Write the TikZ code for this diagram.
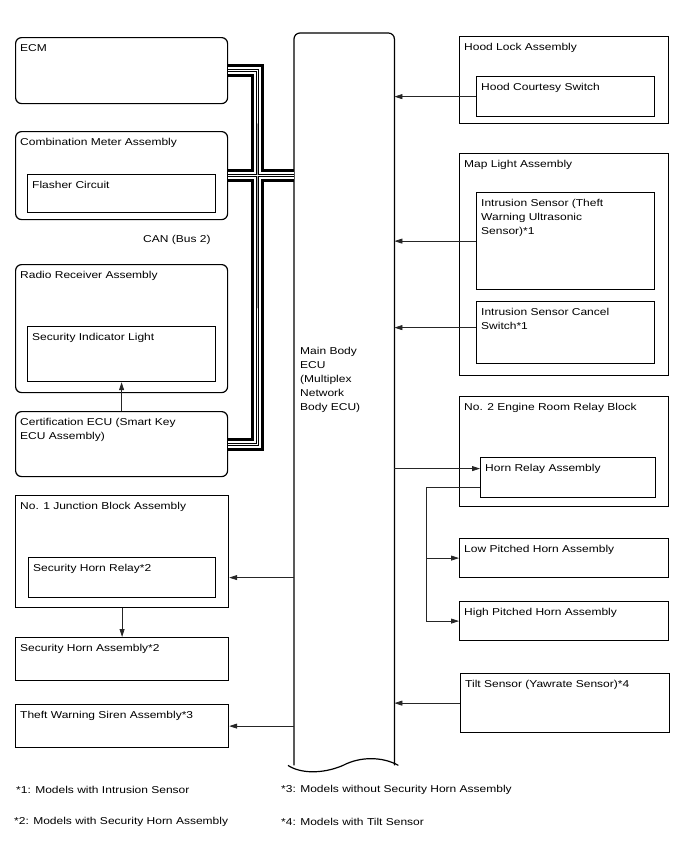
\documentclass[tikz,border=0pt]{standalone}
\usepackage{fontspec}
\setmainfont{Liberation Sans}[FakeStretch=1.2]
\usetikzlibrary{arrows.meta}

\begin{document}
\begin{tikzpicture}[
  x=1pt, y=-1pt,
  font=\fontsize{10}{14}\selectfont,
  rbox/.style={draw, line width=1.2pt, rounded corners=6pt, anchor=north west, inner sep=0pt},
  sbox/.style={draw, line width=1.2pt, anchor=north west, inner sep=0pt},
  boxlabel/.style={anchor=north west, inner sep=0pt, align=left, xshift=5pt, yshift=-7.5pt},
  sig/.style={draw=black!85, line width=0.75pt, -{Triangle[length=8pt,width=5pt]}},
  canout/.style={line width=3pt, double distance=7pt},
  canin/.style={line width=1pt, double distance=1pt}
]
\useasboundingbox (0,0) rectangle (688,852);

% left column
\node[rbox, minimum width=212, minimum height=66] (ecm) at (15,37) {};
\node[boxlabel] (ecm-t) at (ecm.north west) {ECM};
\node[rbox, minimum width=212, minimum height=88] (meter) at (15,131) {};
\node[boxlabel] (meter-t) at (meter.north west) {Combination Meter Assembly};
\node[sbox, minimum width=188, minimum height=38] (flasher) at (27,174) {};
\node[boxlabel] (flasher-t) at (flasher.north west) {Flasher Circuit};
\node[rbox, minimum width=212, minimum height=128] (radio) at (15,264) {};
\node[boxlabel] (radio-t) at (radio.north west) {Radio Receiver Assembly};
\node[sbox, minimum width=188, minimum height=55] (indicator) at (27,326) {};
\node[boxlabel] (indicator-t) at (indicator.north west) {Security Indicator Light};
\node[rbox, minimum width=212, minimum height=65] (cert) at (15,411) {};
\node[boxlabel] (cert-t) at (cert.north west) {Certification ECU (Smart Key\\ECU Assembly)};
\node[sbox, minimum width=213, minimum height=112] (jb) at (15,495) {};
\node[boxlabel] (jb-t) at (jb.north west) {No. 1 Junction Block Assembly};
\node[sbox, minimum width=187, minimum height=40] (secrelay) at (28,557) {};
\node[boxlabel] (secrelay-t) at (secrelay.north west) {Security Horn Relay*2};
\node[sbox, minimum width=213, minimum height=43] (sechorn) at (15,637) {};
\node[boxlabel] (sechorn-t) at (sechorn.north west) {Security Horn Assembly*2};
\node[sbox, minimum width=213, minimum height=43] (siren) at (15,704) {};
\node[boxlabel] (siren-t) at (siren.north west) {Theft Warning Siren Assembly*3};
\node[anchor=west, inner sep=0pt] (canlbl) at (143,240) {CAN (Bus 2)};

% main body ECU
\node[minimum width=100, minimum height=732, anchor=north west, inner sep=0pt] (ecu) at (294,33) {};
\draw[line width=1.2pt, rounded corners=6pt] (ecu.south west) -- (ecu.north west) -- (ecu.north east) -- (ecu.south east);
\draw[line width=1.2pt] ([xshift=-6pt]ecu.south west) .. controls +(12,8) and +(-21,9) .. ++(55,0)
  .. controls +(17,-9) and +(-16,-9) .. ([xshift=4pt]ecu.south east);
\node[anchor=north west, inner sep=0pt, align=left] (ecu-t) at (300,347) {Main Body\\ECU\\(Multiplex\\Network\\Body ECU)};

% right column
\node[sbox, minimum width=209, minimum height=87] (hood) at (459,36) {};
\node[boxlabel] (hood-t) at (hood.north west) {Hood Lock Assembly};
\node[sbox, minimum width=178, minimum height=40] (courtesy) at (476,76) {};
\node[boxlabel] (courtesy-t) at (courtesy.north west) {Hood Courtesy Switch};
\node[sbox, minimum width=209, minimum height=222] (maplight) at (459,153) {};
\node[boxlabel] (maplight-t) at (maplight.north west) {Map Light Assembly};
\node[sbox, minimum width=178, minimum height=97] (intrusion) at (476,192) {};
\node[boxlabel] (intrusion-t) at (intrusion.north west) {Intrusion Sensor (Theft\\Warning Ultrasonic\\Sensor)*1};
\node[sbox, minimum width=178, minimum height=62] (cancel) at (476,301) {};
\node[boxlabel] (cancel-t) at (cancel.north west) {Intrusion Sensor Cancel\\Switch*1};
\node[sbox, minimum width=209, minimum height=110] (relayblk) at (459,396) {};
\node[boxlabel] (relayblk-t) at (relayblk.north west) {No. 2 Engine Room Relay Block};
\node[sbox, minimum width=175, minimum height=40] (hornrly) at (480,457) {};
\node[boxlabel] (hornrly-t) at (hornrly.north west) {Horn Relay Assembly};
\node[sbox, minimum width=209, minimum height=39] (lowhorn) at (459,538) {};
\node[boxlabel] (lowhorn-t) at (lowhorn.north west) {Low Pitched Horn Assembly};
\node[sbox, minimum width=209, minimum height=39] (highhorn) at (459,601) {};
\node[boxlabel] (highhorn-t) at (highhorn.north west) {High Pitched Horn Assembly};
\node[sbox, minimum width=209, minimum height=59] (tilt) at (460,673) {};
\node[boxlabel] (tilt-t) at (tilt.north west) {Tilt Sensor (Yawrate Sensor)*4};

% CAN bus
\coordinate (bus) at (257,175);
\draw[canout] (ecm.east) -| (bus) |- (cert.east) (meter.east) -- (meter.east -| ecu.west);
\draw[canin] (ecm.east) -| (bus) |- (cert.east) (meter.east) -- (meter.east -| ecu.west);

% signal lines
\draw[sig] (cert.north) -- (indicator.south);
\draw[sig] (jb.south) -- (sechorn.north);
\draw[sig] (secrelay.east -| ecu.west) -- (secrelay.east -| jb.east);
\draw[sig] (siren.east -| ecu.west) -- (siren.east);
\draw[sig] (courtesy.west) -- (courtesy.west -| ecu.east);
\draw[sig] (intrusion.west) -- (intrusion.west -| ecu.east);
\coordinate (cancelout) at ([yshift=5pt]cancel.west);
\draw[sig] (cancelout) -- (cancelout -| ecu.east);
\coordinate (hornin) at ([yshift=9pt]hornrly.west);
\draw[sig] (hornin -| ecu.east) -- (hornin);
\coordinate (hornout) at ([yshift=-10pt]hornrly.west);
\draw[sig] (hornout) -- ++(-54,0) coordinate (branch) |- (lowhorn.west);
\draw[sig] (branch) |- (highhorn.west);
\draw[sig] (tilt.west) -- (tilt.west -| ecu.east);

% notes
\node[anchor=west, inner sep=0pt] (note1) at (16,790) {*1: Models with Intrusion Sensor};
\node[anchor=west, inner sep=0pt] (note3) at (281,790) {*3: Models without Security Horn Assembly};
\node[anchor=west, inner sep=0pt] (note2) at (14,822) {*2: Models with Security Horn Assembly};
\node[anchor=west, inner sep=0pt] (note4) at (281,822) {*4: Models with Tilt Sensor};
\end{tikzpicture}
\end{document}
